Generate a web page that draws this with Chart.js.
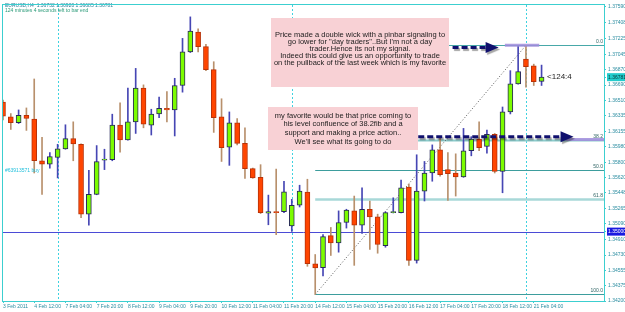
<!DOCTYPE html>
<html><head><meta charset="utf-8">
<script src="https://cdn.jsdelivr.net/npm/chart.js@4/dist/chart.umd.min.js"></script>
<style>html,body{margin:0;padding:0;background:#fff;overflow:hidden}#wrap{width:625px;height:312px}</style>
</head><body><div id="wrap"><canvas id="c" width="625" height="312"></canvas></div>
<script>
// ---------- DATA ----------
const barTimes = [
 "3 Feb 20:00",
 "4 Feb 00:00","4 Feb 04:00","4 Feb 08:00","4 Feb 12:00","4 Feb 16:00","4 Feb 20:00",
 "7 Feb 00:00","7 Feb 04:00","7 Feb 08:00","7 Feb 12:00","7 Feb 16:00","7 Feb 20:00",
 "8 Feb 00:00","8 Feb 04:00","8 Feb 08:00","8 Feb 12:00","8 Feb 16:00","8 Feb 20:00",
 "9 Feb 00:00","9 Feb 04:00","9 Feb 08:00","9 Feb 12:00","9 Feb 16:00","9 Feb 20:00",
 "10 Feb 00:00","10 Feb 04:00","10 Feb 08:00","10 Feb 12:00","10 Feb 16:00","10 Feb 20:00",
 "11 Feb 00:00","11 Feb 04:00","11 Feb 08:00","11 Feb 12:00","11 Feb 16:00","11 Feb 20:00",
 "14 Feb 00:00","14 Feb 04:00","14 Feb 08:00","14 Feb 12:00","14 Feb 16:00","14 Feb 20:00",
 "15 Feb 00:00","15 Feb 04:00","15 Feb 08:00","15 Feb 12:00","15 Feb 16:00","15 Feb 20:00",
 "16 Feb 00:00","16 Feb 04:00","16 Feb 08:00","16 Feb 12:00","16 Feb 16:00","16 Feb 20:00",
 "17 Feb 00:00","17 Feb 04:00","17 Feb 08:00","17 Feb 12:00","17 Feb 16:00","17 Feb 20:00",
 "18 Feb 00:00","18 Feb 04:00","18 Feb 08:00","18 Feb 12:00","18 Feb 16:00","18 Feb 20:00",
 "21 Feb 00:00","21 Feb 04:00","21 Feb 08:00"
];
const opens = [1.36494,1.36323,1.36255,1.36342,1.36297,1.35817,1.35779,1.35855,1.35954,1.36072,
 1.36007,1.35201,1.35429,1.35824,1.35829,1.36228,1.36057,1.36266,1.36654,1.36228,
 1.36357,1.36422,1.36403,1.36685,1.37073,1.37301,1.37133,1.36868,1.36323,1.35973,
 1.36255,1.36018,1.35726,1.35627,1.35212,1.35231,1.35231,1.35067,1.35304,1.35456,
 1.34630,1.34585,1.34953,1.34870,1.35105,1.35239,1.35075,1.35258,1.35170,1.34839,
 1.35219,1.35219,1.35513,1.34668,1.35467,1.35676,1.35943,1.35715,1.35676,1.35630,
 1.35932,1.36068,1.35981,1.36121,1.35695,1.36380,1.36703,1.36988,1.36913,1.36732];
const highs = [1.36517,1.36361,1.36403,1.36426,1.36760,1.36087,1.35912,1.36007,1.36232,1.36266,
 1.36012,1.35707,1.35992,1.35950,1.36354,1.36486,1.36654,1.36882,1.36692,1.36411,
 1.36551,1.36616,1.36768,1.37228,1.37476,1.37339,1.37160,1.36959,1.36532,1.36380,
 1.36304,1.36197,1.35733,1.35772,1.35421,1.35721,1.35581,1.35372,1.35535,1.35604,
 1.34736,1.34965,1.35048,1.35239,1.35258,1.35410,1.35505,1.35353,1.35201,1.35227,
 1.35390,1.35593,1.35547,1.35886,1.35809,1.36000,1.36095,1.35912,1.35897,1.36190,
 1.36095,1.36266,1.36171,1.36132,1.36437,1.36856,1.37141,1.37148,1.36931,1.36920];
const lows = [1.36289,1.36178,1.36247,1.36167,1.35676,1.35429,1.35733,1.35619,1.35950,1.35817,
 1.35162,1.35075,1.35425,1.35715,1.35817,1.35916,1.36053,1.36132,1.36197,1.36114,
 1.36315,1.36266,1.36103,1.36608,1.37065,1.37073,1.36856,1.36144,1.35809,1.35764,
 1.36000,1.35612,1.35615,1.35208,1.35079,1.34965,1.35219,1.35002,1.35284,1.34600,
 1.34276,1.34489,1.34725,1.34763,1.35041,1.34611,1.34980,1.34794,1.34751,1.34820,
 1.35215,1.35215,1.34611,1.34637,1.35353,1.35581,1.35638,1.35361,1.35410,1.35626,
 1.35874,1.35932,1.35904,1.35676,1.35448,1.36357,1.36700,1.36665,1.36685,1.36685];
const closes = [1.36331,1.36255,1.36342,1.36304,1.35817,1.35779,1.35866,1.35954,1.36072,1.36011,
 1.35201,1.35429,1.35809,1.35836,1.36228,1.36057,1.36266,1.36654,1.36240,1.36354,
 1.36422,1.36403,1.36685,1.37073,1.37313,1.37133,1.36868,1.36315,1.35969,1.36255,
 1.36018,1.35726,1.35619,1.35219,1.35231,1.35219,1.35459,1.35304,1.35467,1.34630,
 1.34580,1.34942,1.34870,1.35105,1.35247,1.35075,1.35258,1.35170,1.34851,1.35219,
 1.35221,1.35505,1.34668,1.35467,1.35676,1.35943,1.35658,1.35669,1.35630,1.35932,
 1.36068,1.35969,1.36121,1.35695,1.36380,1.36703,1.36845,1.36902,1.36730,1.36781];
const xTickBars = [0,4,8,12,16,20,24,28,32,36,40,44,48,52,56,60,64,68];
const xTickLabels = ["3 Feb 2011","4 Feb 12:00","7 Feb 04:00","7 Feb 20:00","8 Feb 12:00","9 Feb 04:00",
 "9 Feb 20:00","10 Feb 12:00","11 Feb 04:00","11 Feb 20:00","14 Feb 12:00","15 Feb 04:00","15 Feb 20:00",
 "16 Feb 12:00","17 Feb 04:00","17 Feb 20:00","18 Feb 12:00","21 Feb 04:00"];
const yTickLabels = ["1.34200","1.34375","1.34555","1.34730","1.34910","1.35090","1.35265","1.35448",
 "1.35620","1.35800","1.35980","1.36155","1.36335","1.36510","1.36690","1.36870","1.37045","1.37225",
 "1.37408","1.37590"];
const currentPrice = 1.36781;
const hLinePrice = 1.35000;
const weekStartBars = [7,37,67];
const fibStartBar = 40, fibEndBar = 67;
const fibLow = 1.34276, fibHigh = 1.37148;
const fibLevels = [0,38.2,50,61.8,100];
const fibLabels = ["0.0","38.2","50.0","61.8","100.0"];
const emptyBarsRight = 8;

// ---------- STYLE ----------
const BULL = '#7cfc00', BEAR = '#ff4500';
const bodyColors = opens.map((o,i)=> closes[i]>=o ? BULL : BEAR);
const bodyBorders = opens.map((o,i)=> closes[i]>=o ? '#28285a' : '#b83208');
const wickColors = opens.map((o,i)=> closes[i]>=o ? '#4646b4' : '#b8906c');
const AXC = '#3ccfd0', TXT = '#2a8ca0';
const FONT = '"Liberation Sans", Arial, sans-serif';

const yTickValues = yTickLabels.map(parseFloat);
const yTicksAll = yTickValues.map((v,i)=>({value:v,label:yTickLabels[i],kind:0}))
  .concat([{value:currentPrice,label:currentPrice.toFixed(5),kind:1},{value:hLinePrice,label:hLinePrice.toFixed(5),kind:2}]);

function line(ctx,x1,y1,x2,y2){ctx.beginPath();ctx.moveTo(x1,y1);ctx.lineTo(x2,y2);ctx.stroke();}

const annot = {
  id:'annot',
  beforeDatasetsDraw(chart){
    const {ctx, chartArea:a, scales:{x,y}} = chart;
    ctx.save();
    ctx.lineWidth = 1;
    ctx.strokeStyle = '#3fd2e0'; ctx.setLineDash([2,2]);
    weekStartBars.forEach(i=>{const px=Math.round(x.getPixelForValue(i))+0.5; line(ctx,px,a.top,px,a.bottom);});
    ctx.setLineDash([]);
    ctx.strokeStyle = '#4b4bd6';
    const hy = Math.round(y.getPixelForValue(hLinePrice))+0.5; line(ctx,a.left,hy,a.right,hy);
    // fib levels
    const fx = x.getPixelForValue(fibStartBar);
    const fcol = ['#48a8a8','#8ccccc','#3d9d9d','#a8d8d8','#3d9d9d'];
    const fw = [1,2,1,2.5,1];
    fibLevels.forEach((lv,k)=>{
      const p = fibHigh-(fibHigh-fibLow)*lv/100;
      const py = Math.round(y.getPixelForValue(p))+0.5;
      ctx.strokeStyle=fcol[k]; ctx.lineWidth=fw[k]; line(ctx,fx,py,a.right,py);
      ctx.fillStyle='#2f6464'; ctx.font='5px '+FONT; ctx.textAlign='right'; ctx.textBaseline='bottom';
      ctx.fillText(fibLabels[k], a.right-1, py-1);
    });
    // dotted trend line
    ctx.strokeStyle='#555'; ctx.lineWidth=1; ctx.setLineDash([1,2]);
    line(ctx,x.getPixelForValue(fibStartBar),y.getPixelForValue(fibLow),x.getPixelForValue(fibEndBar),y.getPixelForValue(fibHigh));
    ctx.restore();
  },
  afterDatasetsDraw(chart){
    const {ctx, chartArea:a, scales:{x,y}} = chart;
    ctx.save();
    // lavender level marks
    ctx.strokeStyle='rgba(160,140,220,0.85)'; ctx.lineWidth=3;
    const y0 = y.getPixelForValue(fibHigh);
    line(ctx,x.getPixelForValue(64.3),y0,x.getPixelForValue(68.7),y0);
    const y382 = y.getPixelForValue(fibHigh-(fibHigh-fibLow)*0.382)-1;
    line(ctx,x.getPixelForValue(72.1),y382,a.right,y382);
    // text boxes
    function box(x1,y1,x2,y2,lines,ys){
      ctx.fillStyle='#f8d1d5'; ctx.fillRect(x1,y1,x2-x1,y2-y1);
      ctx.fillStyle='#1c1c1c'; ctx.font='7.5px '+FONT; ctx.textAlign='center'; ctx.textBaseline='middle';
      lines.forEach((t,i)=>ctx.fillText(t,(x1+x2)/2,ys[i]));
    }
    box(271,18,449,87,["Price made a double wick with a pinbar signaling to",
      "go lower for \"day traders\"..But I'm not a day","trader.Hence its not my signal.",
      "Indeed this could give us an opportunity to trade","on the pullback of the last week which is my favorite"],
      [35,42.3,49.3,56.3,63.3]);
    box(268,107,418,150,["my favorite would be that price coming to","his level confluence of 38.2fib and a",
      "support and making a price action..","We'll see what its going to do"],[115.7,124,132.5,141.5]);
    // dashed arrows
    function arrow(xs,xt,py){
      ctx.save();
      ctx.shadowColor='rgba(0,0,0,0.35)'; ctx.shadowOffsetX=1.5; ctx.shadowOffsetY=2; ctx.shadowBlur=1;
      ctx.strokeStyle='#10106e'; ctx.fillStyle='#10106e'; ctx.lineWidth=3; ctx.setLineDash([6,3]);
      line(ctx,xs,py,xt-11,py);
      ctx.setLineDash([]);
      ctx.beginPath(); ctx.moveTo(xt,py); ctx.lineTo(xt-13,py-5.5); ctx.lineTo(xt-13,py+5.5); ctx.closePath(); ctx.fill();
      ctx.restore();
    }
    arrow(x.getPixelForValue(57.6),x.getPixelForValue(63.5),y.getPixelForValue(1.37122));
    arrow(x.getPixelForValue(53.2),x.getPixelForValue(73.1),y.getPixelForValue(1.36095));
    // texts
    ctx.textAlign='left'; ctx.textBaseline='middle';
    ctx.font='5px '+FONT; ctx.fillStyle='#2a7f9a';
    ctx.fillText('EURUSD,H4  1.36732 1.36920 1.36685 1.36781',5,5.5);
    ctx.fillStyle='#2a9a78';
    ctx.fillText('124 minutes 4 seconds left to bar end',5,11);
    ctx.fillStyle='#22c0dc';
    ctx.fillText('#63913571 buy',5,171);
    ctx.font='8px '+FONT; ctx.fillStyle='#222';
    ctx.fillText('<124:4', x.getPixelForValue(69)+5.5, y.getPixelForValue(currentPrice));
    // frame
    ctx.strokeStyle=AXC; ctx.lineWidth=1;
    ctx.strokeRect(a.left-0.5,a.top-0.5,a.right-a.left+1,a.bottom-a.top+1);
    ctx.restore();
  }
};

new Chart(document.getElementById('c'),{
  type:'bar',
  data:{
    labels: barTimes.concat(Array(emptyBarsRight).fill('')),
    datasets:[
      {label:'wick', data: lows.map((l,i)=>[l,highs[i]]), backgroundColor: wickColors, borderWidth:0,
       barThickness:1, grouped:false, order:2},
      {label:'body', data: opens.map((o,i)=>[o,closes[i]]), backgroundColor: bodyColors, borderColor: bodyBorders,
       borderWidth:1, borderSkipped:false, barThickness:5, minBarLength:1, grouped:false, order:1}
    ]
  },
  options:{
    responsive:false, animation:false, devicePixelRatio:1, events:[],
    layout:{padding:{left:3,top:2,right:0,bottom:0}},
    plugins:{legend:{display:false}, tooltip:{enabled:false}},
    scales:{
      x:{
        offset:false,
        grid:{offset:false, drawOnChartArea:false, tickLength:2,
              tickColor:(c)=> xTickBars.includes(c.index)? AXC : 'rgba(0,0,0,0)'},
        border:{display:false},
        afterFit:(s)=>{s.height=11;},
        ticks:{autoSkip:false, maxRotation:0, minRotation:0, align:'start', padding:1,
               font:{size:5, family:FONT}, color:TXT,
               callback:(v,i)=>{const k=xTickBars.indexOf(i); return k>=0? xTickLabels[k] : '';}}
      },
      y:{
        position:'right', min:1.342, max:1.37613,
        grid:{drawOnChartArea:false, tickLength:2, tickColor:AXC},
        border:{display:false},
        afterFit:(s)=>{s.width=21;},
        afterBuildTicks:(s)=>{s.ticks = yTicksAll.map(t=>({value:t.value}));},
        ticks:{autoSkip:false, padding:2, font:{size:5, family:FONT},
               color:(c)=> c.index===yTicksAll.length-1 ? '#ffffff' : (c.index===yTicksAll.length-2 ? '#0a3a3a' : TXT),
               showLabelBackdrop:(c)=> c.index>=yTickLabels.length,
               backdropColor:(c)=> c.index===yTicksAll.length-1 ? '#1a1ae0' : '#22cccc',
               backdropPadding:{top:1,bottom:1,left:1,right:3},
               callback:(v,i)=> yTicksAll[i] ? yTicksAll[i].label : ''}
      }
    }
  },
  plugins:[annot]
});
</script></body></html>
